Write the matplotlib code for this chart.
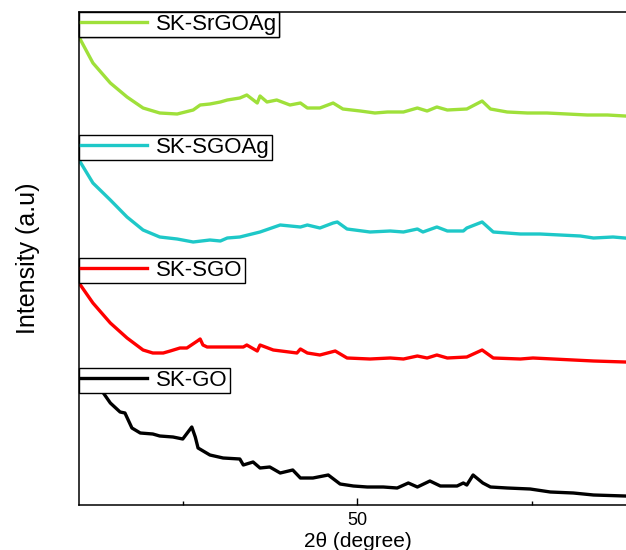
import matplotlib.pyplot as plt
from matplotlib.ticker import MultipleLocator

# XRD patterns (2-theta in degrees, intensity in a.u.)
go_x = [12.6, 13.4, 14.5, 15.9, 16.6, 17.6, 18.8, 20.6, 21.6, 23.5, 24.9, 26.2, 26.7, 27.1,
        28.8, 30.7, 33.1, 33.6, 35.0, 36.0, 37.4, 38.9, 40.7, 41.8, 43.6, 45.8, 47.5, 49.4,
        51.4, 53.7, 55.7, 57.3, 58.6, 60.4, 61.9, 64.3, 65.2, 65.7, 66.6, 68.0, 69.1, 71.5,
        74.8, 77.7, 81.0, 83.9, 88.4]
go_y = [123, 113, 102, 93, 92, 77, 72, 71, 69, 68, 66, 78, 68, 57,
        50, 47, 46, 40, 43, 37, 38, 32, 35, 27, 27, 30, 21, 19,
        18, 18, 17, 22, 18, 24, 19, 19, 22, 20, 30, 22, 18, 17,
        16, 13, 12, 10, 9]

sgo_x = [10.0, 12.0, 14.5, 16.9, 19.2, 20.6, 22.1, 23.1, 24.5, 25.5, 27.0, 27.4, 27.8, 28.4,
         30.7, 33.6, 34.1, 35.6, 36.0, 37.9, 41.3, 41.8, 42.8, 44.6, 46.8, 48.5, 51.8, 54.7,
         56.6, 58.6, 60.0, 61.4, 62.9, 65.7, 67.9, 69.5, 73.4, 75.2, 78.1, 81.0, 83.9, 88.4]
sgo_y = [92, 72, 52, 37, 25, 22, 22, 24, 27, 27, 34, 36, 30, 28,
         28, 28, 30, 24, 30, 25, 22, 26, 22, 20, 24, 17, 16, 17,
         16, 19, 17, 20, 17, 18, 25, 17, 16, 17, 16, 15, 14, 13]

sgoag_x = [10.0, 12.0, 14.5, 16.9, 19.2, 21.6, 24.1, 26.4, 28.8, 30.3, 31.3, 33.1, 36.0, 38.9,
           41.8, 42.8, 44.6, 46.5, 47.1, 48.5, 51.8, 54.7, 56.6, 58.6, 59.4, 61.4, 62.9, 65.2,
           65.7, 67.9, 69.5, 73.4, 76.2, 79.1, 82.0, 83.9, 86.7, 88.4]
sgoag_y = [95, 72, 55, 38, 25, 18, 16, 13, 15, 14, 17, 18, 23, 30,
           28, 30, 27, 32, 33, 26, 23, 24, 23, 26, 23, 28, 24, 24,
           27, 33, 23, 21, 21, 20, 19, 17, 18, 17]

srgoag_x = [10.0, 12.0, 14.5, 16.9, 19.2, 21.6, 24.1, 26.4, 27.4, 28.8, 30.3, 31.3, 33.1, 34.1,
            35.6, 36.0, 37.0, 38.4, 40.3, 41.8, 42.8, 44.6, 46.5, 47.9, 50.4, 52.5, 54.3, 56.6,
            58.6, 60.0, 61.4, 62.9, 65.7, 67.9, 69.1, 71.5, 74.4, 77.2, 80.1, 83.0, 85.9, 88.4]
srgoag_y = [93, 67, 47, 33, 22, 17, 16, 20, 25, 26, 28, 30, 32, 35,
            27, 34, 28, 30, 25, 27, 22, 22, 27, 21, 19, 17, 18, 18,
            22, 19, 23, 20, 21, 29, 21, 18, 17, 17, 16, 15, 15, 14]

labels = ['SK-GO', 'SK-SGO', 'SK-SGOAg', 'SK-SrGOAg']
colors = ['black', '#ff0000', '#1ec8c8', '#9fe03a']
offsets = [0, 130, 250, 375]        # vertical stacking of the patterns
box_tops = [137, 247, 370, 493]     # where each label box starts

fig = plt.figure(figsize=(6.26, 5.5), dpi=100)
plt.rcParams['font.family'] = ['Liberation Sans', 'DejaVu Sans']
ax = fig.add_axes([79/626, 45/550, 557/626, 493/550])

series = [(go_x, go_y), (sgo_x, sgo_y), (sgoag_x, sgoag_y), (srgoag_x, srgoag_y)]
for (x, y), lab, c, off, top in zip(series, labels, colors, offsets, box_tops):
    line, = ax.plot(x, [v + off for v in y], color=c, lw=2.4, label=lab)
    leg = ax.legend(handles=[line], loc='upper left', bbox_to_anchor=(0, top),
                    bbox_transform=ax.get_yaxis_transform(), borderaxespad=0,
                    fontsize=16, handlelength=3.0, handletextpad=0.4,
                    borderpad=0.08, fancybox=False, framealpha=1,
                    edgecolor='black')
    leg.get_frame().set_linewidth(1.0)
    ax.add_artist(leg)

ax.set_xlim(10, 90)
ax.set_ylim(0, 493)
ax.set_yticks([])
ax.xaxis.set_major_locator(MultipleLocator(50))
ax.xaxis.set_minor_locator(MultipleLocator(25))
ax.tick_params(axis='x', which='major', direction='in', length=5, width=1, labelsize=13, pad=5)
ax.tick_params(axis='x', which='minor', direction='in', length=3, width=1)
ax.spines['right'].set_visible(False)
for s in ['left', 'top', 'bottom']:
    ax.spines[s].set_linewidth(1.1)

ax.set_xlabel('2θ (degree)', fontsize=15, labelpad=2)
ax.set_ylabel('Intensity (a.u)', fontsize=18, labelpad=28)

fig.savefig('out.png', dpi=100)
